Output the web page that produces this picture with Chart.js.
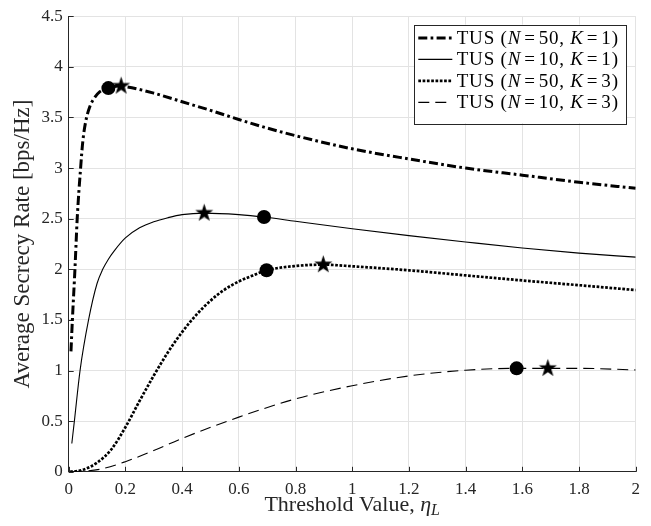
<!DOCTYPE html>
<html><head><meta charset="utf-8">
<script src="https://cdn.jsdelivr.net/npm/chart.js@4.4.1/dist/chart.umd.min.js"></script>
<style>html,body{margin:0;padding:0;background:#fff;}#wrap{width:651px;height:526px;}</style>
</head><body><div id="wrap"><canvas id="c" width="651" height="526"></canvas></div>
<script>
// ---- data ----
const seriesLabels = ['TUS (N=50, K=1)', 'TUS (N=10, K=1)', 'TUS (N=50, K=3)', 'TUS (N=10, K=3)'];
const xN50K1 = [0.008, 0.013, 0.022, 0.030, 0.042, 0.05, 0.06, 0.075, 0.09, 0.11, 0.14, 0.18, 0.2, 0.3, 0.4, 0.5, 0.6, 0.7, 0.8, 1.0, 1.2, 1.4, 1.6, 1.8, 2.0];
const yN50K1 = [1.19, 1.5, 2.0, 2.5, 3.0, 3.27, 3.46, 3.61, 3.69, 3.755, 3.79, 3.81, 3.805, 3.74, 3.655, 3.57, 3.48, 3.395, 3.32, 3.19, 3.09, 3.0, 2.93, 2.86, 2.80];
const xN10K1 = [0.011, 0.02, 0.04, 0.07, 0.1, 0.12, 0.14, 0.16, 0.2, 0.25, 0.3, 0.35, 0.4, 0.478, 0.6, 0.689, 0.8, 1.0, 1.2, 1.4, 1.6, 1.8, 2.0];
const yN10K1 = [0.28, 0.5, 1.0, 1.5, 1.86, 2.0, 2.1, 2.18, 2.31, 2.41, 2.47, 2.51, 2.54, 2.555, 2.54, 2.516, 2.474, 2.40, 2.333, 2.27, 2.21, 2.16, 2.12];
const xN50K3 = [0.005, 0.05, 0.1, 0.15, 0.2, 0.25, 0.3, 0.35, 0.4, 0.45, 0.5, 0.55, 0.6, 0.65, 0.698, 0.8, 0.898, 1.0, 1.2, 1.4, 1.6, 1.8, 2.0];
const yN50K3 = [0.0, 0.02, 0.09, 0.22, 0.44, 0.70, 0.95, 1.18, 1.38, 1.55, 1.69, 1.80, 1.88, 1.94, 1.99, 2.033, 2.046, 2.03, 1.99, 1.94, 1.89, 1.843, 1.795];
const xN10K3 = [0.01, 0.11, 0.2, 0.3, 0.4, 0.6, 0.8, 1.0, 1.2, 1.4, 1.58, 1.69, 1.8, 2.0];
const yN10K3 = [0.0, 0.025, 0.1, 0.21, 0.33, 0.54, 0.72, 0.85, 0.947, 1.003, 1.022, 1.022, 1.022, 1.006];
const circleX = [0.14, 0.689, 0.698, 1.58];
const circleY = [3.79, 2.516, 1.99, 1.022];
const starX = [0.185, 0.478, 0.898, 1.69];
const starY = [3.81, 2.555, 2.046, 1.022];
const xTicks = [0, 0.2, 0.4, 0.6, 0.8, 1, 1.2, 1.4, 1.6, 1.8, 2];
const yTicks = [0, 0.5, 1, 1.5, 2, 2.5, 3, 3.5, 4, 4.5];
const xTitleParts = ['Threshold Value, ', 'η', 'L'];
const yTitle = 'Average Secrecy Rate [bps/Hz]';

// ---- styles ----
const FONT = 'Liberation Serif';
const AX = '#262626';
const lineStyles = [
  {w: 3, dash: [9, 3.3, 2.7, 3.3]},
  {w: 1.1, dash: []},
  {w: 2.7, dash: [2.7, 1.6]},
  {w: 1.1, dash: [11, 6]}
];
const pts = (xs, ys) => xs.map((x, i) => ({x: x, y: ys[i]}));

function makeStar(r) {
  const c = document.createElement('canvas');
  const s = Math.ceil(2 * r + 2);
  c.width = s; c.height = s;
  const g = c.getContext('2d');
  g.fillStyle = '#000';
  g.beginPath();
  for (let i = 0; i < 10; i++) {
    const rad = i % 2 === 0 ? r : r * 0.382;
    const a = -Math.PI / 2 + i * Math.PI / 5;
    g.lineTo(s / 2 + rad * Math.cos(a), s / 2 + rad * Math.sin(a));
  }
  g.closePath(); g.fill();
  return c;
}
const starImg = makeStar(9.5);

const seriesData = [[xN50K1, yN50K1], [xN10K1, yN10K1], [xN50K3, yN50K3], [xN10K3, yN10K3]];
const datasets = seriesData.map((d, i) => ({
  label: seriesLabels[i],
  data: pts(d[0], d[1]),
  borderColor: '#000',
  borderWidth: lineStyles[i].w,
  borderDash: lineStyles[i].dash,
  borderCapStyle: 'butt',
  pointRadius: 0,
  cubicInterpolationMode: 'monotone',
  fill: false
}));
datasets.push({label: 'circles', data: pts(circleX, circleY), showLine: false, pointStyle: 'circle', pointRadius: 7, backgroundColor: '#000', borderWidth: 0});
datasets.push({label: 'stars', data: pts(starX, starY), showLine: false, pointStyle: starImg, pointRadius: 9, backgroundColor: '#000', borderWidth: 0});

// inward tick marks
const tickPlugin = {
  id: 'inTicks',
  beforeDatasetsDraw(chart) {
    const {ctx, chartArea: ca, scales: {x, y}} = chart;
    ctx.save();
    ctx.strokeStyle = AX; ctx.lineWidth = 1;
    ctx.beginPath();
    xTicks.forEach(v => { const px = Math.round(x.getPixelForValue(v)) + 0.5; ctx.moveTo(px, ca.bottom); ctx.lineTo(px, ca.bottom - 5); });
    yTicks.forEach(v => { const py = Math.round(y.getPixelForValue(v)) + 0.5; ctx.moveTo(ca.left, py); ctx.lineTo(ca.left + 5, py); });
    ctx.stroke();
    ctx.restore();
  }
};

// legend with italic symbols
const legendPlugin = {
  id: 'boxLegend',
  afterDraw(chart) {
    const {ctx, chartArea: ca} = chart;
    const w = 212.4, h = 98.6;
    const bx = ca.right - 9 - w, by = ca.top + 8.4;
    ctx.save();
    ctx.fillStyle = '#fff';
    ctx.fillRect(bx, by, w, h);
    ctx.strokeStyle = AX; ctx.lineWidth = 1;
    ctx.strokeRect(Math.round(bx) + 0.5, Math.round(by) + 0.5, Math.round(w), Math.round(h));
    seriesLabels.forEach((lab, i) => {
      const cy = by + 13.3 + i * 21.5;
      ctx.strokeStyle = '#000';
      ctx.lineWidth = lineStyles[i].w;
      ctx.setLineDash(lineStyles[i].dash);
      ctx.lineCap = 'butt';
      ctx.beginPath(); ctx.moveTo(bx + 4, cy); ctx.lineTo(bx + 38, cy); ctx.stroke();
      ctx.setLineDash([]);
      let tx = bx + 42.4;
      ctx.fillStyle = '#000';
      ctx.textBaseline = 'middle';
      ctx.textAlign = 'left';
      for (const ch of lab) {
        const it = (ch === 'N' || ch === 'K');
        ctx.font = (it ? 'italic ' : '') + '19px "' + FONT + '"';
        if (ch === '=') tx += 3;
        ctx.fillText(ch, tx, cy + 1);
        tx += ctx.measureText(ch).width + 0.8;
        if (ch === '=') tx += 3;
      }
    });
    ctx.restore();
  }
};

// x-axis title with subscript
const xTitlePlugin = {
  id: 'xTitle',
  afterDraw(chart) {
    const {ctx, chartArea: ca} = chart;
    ctx.save();
    ctx.fillStyle = AX;
    ctx.textBaseline = 'alphabetic';
    ctx.textAlign = 'left';
    const f1 = '22px "' + FONT + '"', f2 = 'italic 22px "' + FONT + '"', f3 = 'italic 16px "' + FONT + '"';
    ctx.font = f1; const w1 = ctx.measureText(xTitleParts[0]).width;
    ctx.font = f2; const w2 = ctx.measureText(xTitleParts[1]).width;
    ctx.font = f3; const w3 = ctx.measureText(xTitleParts[2]).width;
    let x0 = (ca.left + ca.right) / 2 - (w1 + w2 + w3) / 2;
    const base = 511;
    ctx.font = f1; ctx.fillText(xTitleParts[0], x0, base);
    ctx.font = f2; ctx.fillText(xTitleParts[1], x0 + w1, base);
    ctx.font = f3; ctx.fillText(xTitleParts[2], x0 + w1 + w2, base + 4);
    ctx.restore();
  }
};

new Chart(document.getElementById('c'), {
  type: 'line',
  data: {datasets: datasets},
  options: {
    responsive: false,
    animation: false,
    devicePixelRatio: 1,
    layout: {padding: {left: 0, right: 15.3, top: 12.3, bottom: 0}},
    plugins: {legend: {display: false}, tooltip: {enabled: false}},
    scales: {
      x: {
        type: 'linear', min: 0, max: 2,
        afterBuildTicks: s => { s.ticks = xTicks.map(v => ({value: v})); },
        afterFit: s => { s.height = 54.2; },
        ticks: {autoSkip: false, maxRotation: 0, padding: 8, color: AX, font: {family: FONT, size: 17}, callback: v => String(v)},
        grid: {color: '#e3e3e3', lineWidth: 1, drawTicks: false},
        border: {color: AX, width: 1}
      },
      y: {
        type: 'linear', min: 0, max: 4.5,
        afterBuildTicks: s => { s.ticks = yTicks.map(v => ({value: v})); },
        afterFit: s => { s.width = 68.7; },
        ticks: {autoSkip: false, padding: 6, color: AX, font: {family: FONT, size: 17}, callback: v => String(v)},
        grid: {color: '#e3e3e3', lineWidth: 1, drawTicks: false},
        border: {color: AX, width: 1},
        title: {display: true, text: yTitle, color: AX, font: {family: FONT, size: 23}, padding: {top: 9.5, bottom: 0}}
      }
    }
  },
  plugins: [tickPlugin, legendPlugin, xTitlePlugin]
});
</script>
</body></html>
